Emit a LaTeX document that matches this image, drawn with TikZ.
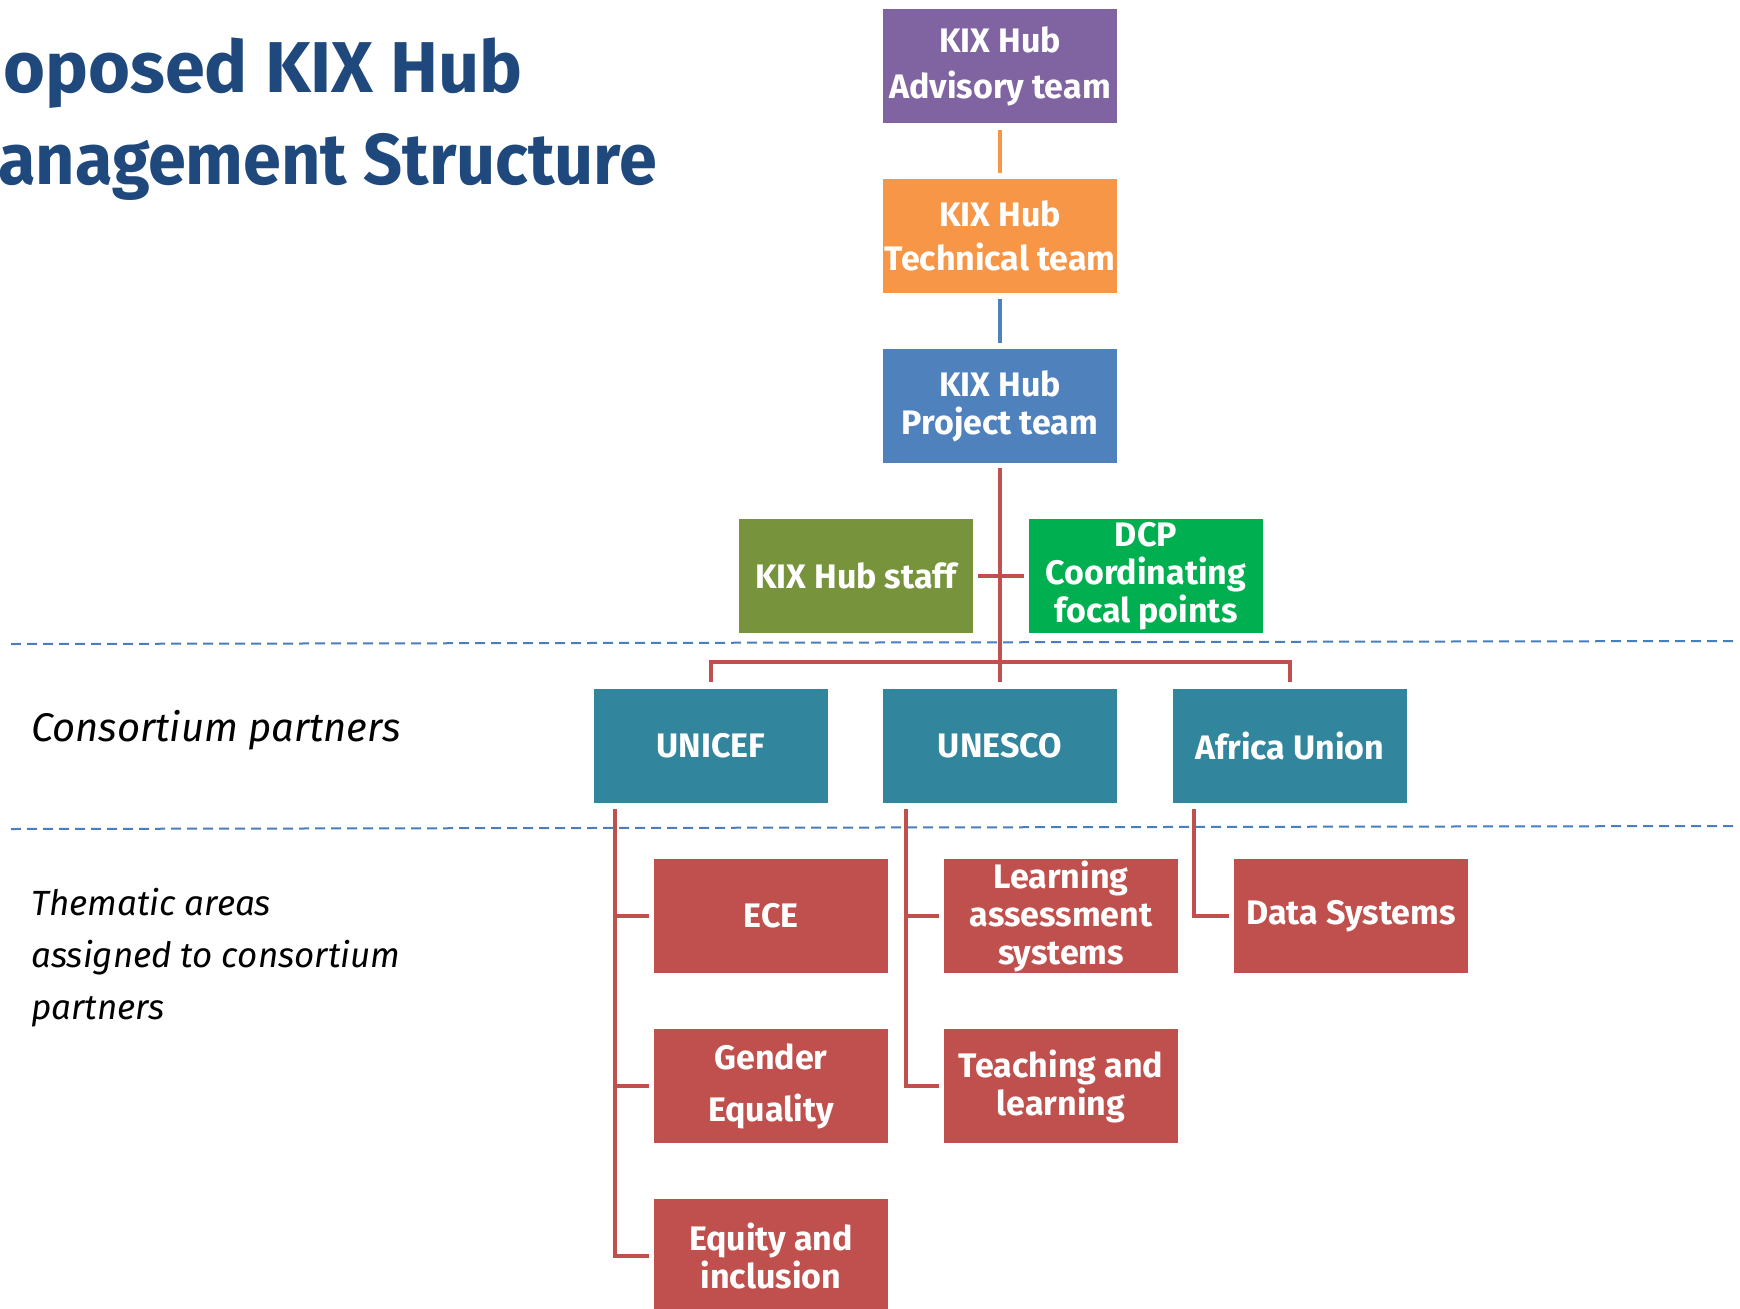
\documentclass[tikz,border=0pt]{standalone}
\usepackage{fontspec}
\setmainfont{Fira Sans}
\usepackage{tikz}
\usetikzlibrary{calc,positioning}
\definecolor{advpurple}{HTML}{8064A2}
\definecolor{techorange}{HTML}{F79646}
\definecolor{projblue}{HTML}{4F81BD}
\definecolor{staffgreen}{HTML}{77933C}
\definecolor{dcpgreen}{HTML}{00B050}
\definecolor{partnerteal}{HTML}{31859C}
\definecolor{themered}{HTML}{C0504D}
\definecolor{titleblue}{HTML}{1F497D}
\definecolor{sepblue}{HTML}{4A7EBB}

\begin{document}
\begin{tikzpicture}[x=1pt,y=-1pt,
  box/.style={fill=#1, text=white, minimum width=234pt, minimum height=114pt, inner sep=0pt, align=center, font=\fontsize{34}{38}\selectfont\bfseries},
  link/.style={draw=#1, line width=4pt},
  sep/.style={draw=sepblue, line width=2pt, dash pattern=on 10pt off 6pt},
  title/.style={text=titleblue, inner sep=0pt, anchor=base west, font=\fontsize{72}{80}\selectfont\bfseries},
  side/.style={inner sep=0pt, align=left, font=\fontsize{#1}{52}\selectfont\itshape}]
\useasboundingbox (0,0) rectangle (1740,1309);
% title
\node[title] (title1) at (3,92) {oposed KIX Hub};
\node[title] (title2) at (-2,184) {\addfontfeature{FakeStretch=0.95}anagement Structure};
% hub
\node[box=advpurple, font=\fontsize{34}{46}\selectfont\bfseries] (adv) at (1000,66) {KIX Hub\\Advisory team};
\node[box=techorange, font=\fontsize{34}{44}\selectfont\bfseries] (tech) at (1000,236) {KIX Hub\\Technical team};
\node[box=projblue] (proj) at (1000,406) {KIX Hub\\Project team};
\node[box=staffgreen] (staff) at (856,576) {KIX Hub staff};
\node[box=dcpgreen] (dcp) at (1146,576) {DCP\\Coordinating\\focal points};
% partners
\node[box=partnerteal] (unicef) at (711,746) {UNICEF};
\node[box=partnerteal] (unesco) at (1000,746) {UNESCO};
\node[box=partnerteal] (africa) at (1290,746) {Africa Union};
% thematic areas
\node[box=themered] (ece) at (771,916) {ECE};
\node[box=themered] (lass) at (1061,916) {Learning\\assessment\\systems};
\node[box=themered] (data) at (1351,916) {Data Systems};
\node[box=themered, font=\fontsize{34}{52}\selectfont\bfseries] (gender) at (771,1086) {Gender\\Equality};
\node[box=themered] (teach) at (1061,1086) {Teaching and\\learning};
\node[box=themered] (equity) at (771,1256) {Equity and\\inclusion};
% side labels
\node[side=40, anchor=base west] (consort) at (31,741) {Consortium partners};
\node[side=35, anchor=north west] (thematic) at (31,888) {Thematic areas\\assigned to consortium\\partners};
% separators
\draw[sep] (11,644) -- (1735,641);
\draw[sep] (11,829) -- (1735,826);
% connectors
\draw[link=techorange, shorten <=7pt, shorten >=6pt] (adv) -- (tech);
\draw[link=projblue, shorten <=6pt, shorten >=6pt] (tech) -- (proj);
\coordinate (bar) at (1000,662);
\draw[link=themered] ([yshift=-5pt]proj.south) -- ([yshift=7pt]unesco.north);
\draw[link=themered] ([yshift=7pt]unicef.north) |- (bar) -| ([yshift=7pt]africa.north);
\draw[link=themered] ([xshift=5pt]staff.east) -- ([xshift=-5pt]dcp.west);
\coordinate (unicef trunk) at ([xshift=21pt,yshift=-6pt]unicef.south west);
\coordinate (unesco trunk) at ([xshift=23pt,yshift=-6pt]unesco.south west);
\coordinate (africa trunk) at ([xshift=21pt,yshift=-6pt]africa.south west);
\draw[link=themered] (unicef trunk) |- ([xshift=-5pt]equity.west);
\draw[link=themered] (unicef trunk |- ece.west) -- ([xshift=-5pt]ece.west);
\draw[link=themered] (unicef trunk |- gender.west) -- ([xshift=-5pt]gender.west);
\draw[link=themered] (unesco trunk) |- ([xshift=-5pt]teach.west);
\draw[link=themered] (unesco trunk |- lass.west) -- ([xshift=-5pt]lass.west);
\draw[link=themered] (africa trunk) |- ([xshift=-5pt]data.west);
\end{tikzpicture}
\end{document}
